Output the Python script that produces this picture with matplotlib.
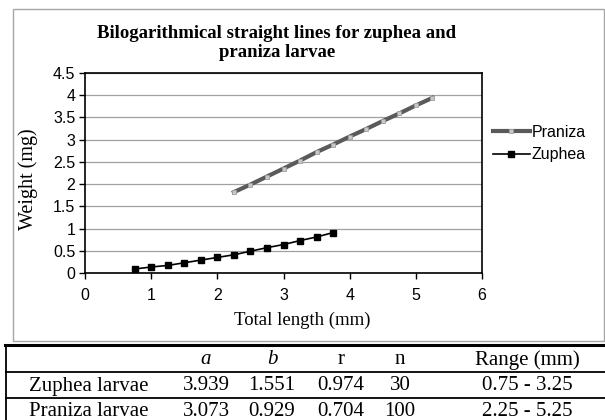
import matplotlib.pyplot as plt
from matplotlib.lines import Line2D
from matplotlib.patches import Rectangle

# values
zuphea_len = [0.75, 1.0, 1.25, 1.5, 1.75, 2.0, 2.25, 2.5, 2.75, 3.0, 3.25, 3.5, 3.75]
zuphea_wt = [0.09, 0.135, 0.17, 0.23, 0.29, 0.35, 0.41, 0.49, 0.57, 0.64, 0.73, 0.81, 0.91]

praniza_len = [2.25, 2.5, 2.75, 3.0, 3.25, 3.5, 3.75, 4.0, 4.25, 4.5, 4.75, 5.0, 5.25]
praniza_wt = [1.82, 1.99, 2.17, 2.35, 2.53, 2.72, 2.89, 3.07, 3.24, 3.42, 3.59, 3.77, 3.94]

# table under the chart
col_heads = ["a", "b", "r", "n", "Range (mm)"]
row_heads = ["Zuphea larvae", "Praniza larvae"]
cells = [
    ["3.939", "1.551", "0.974", "30", "0.75 - 3.25"],
    ["3.073", "0.929", "0.704", "100", "2.25 - 5.25"],
]

W, H = 605, 420
fig = plt.figure(figsize=(W / 100, H / 100), dpi=100)


def fx(px):
    return px / W


def fy(py):
    return 1 - py / H


# chart frame
fig.patches.append(Rectangle((fx(13), fy(341)), fx(604) - fx(13), fy(9) - fy(341),
                             transform=fig.transFigure, fill=False,
                             edgecolor="#a6a6a6", lw=1.0))

ax = fig.add_axes([fx(85), fy(273), fx(482) - fx(85), fy(73) - fy(273)])
ax.set_xlim(0, 6)
ax.set_ylim(0, 4.5)
ax.set_xticks(range(0, 7))
ax.set_yticks([i * 0.5 for i in range(10)])
ax.set_yticklabels(["0", "0.5", "1", "1.5", "2", "2.5", "3", "3.5", "4", "4.5"])
ax.grid(axis="y", color="#a0a0a0", lw=0.9)
ax.set_axisbelow(True)
for s in ax.spines.values():
    s.set_color("black")
    s.set_linewidth(1.2)
ax.tick_params(direction="out", length=4, width=1, colors="black",
               labelsize=11.5, pad=3)
for lab in ax.get_xticklabels() + ax.get_yticklabels():
    lab.set_fontfamily("Liberation Sans")
ax.tick_params(axis="x", pad=7)

ax.plot(praniza_len, praniza_wt, color="#5a5a5a", lw=3.0, marker="s",
        markersize=3, markerfacecolor="#c8c8c8", markeredgecolor="#a0a0a0",
        markeredgewidth=0.6, label="Praniza", zorder=3)
ax.plot(zuphea_len, zuphea_wt, color="black", lw=1.2, marker="s",
        markersize=5, markerfacecolor="black", label="Zuphea", zorder=4)

fig.text(fx(28), fy(179), "Weight (mg)", rotation=90, ha="center", va="center",
         family="Liberation Serif", fontsize=14.5)

fig.text(fx(277), fy(43), "Bilogarithmical straight lines for zuphea and\npraniza larvae",
         ha="center", va="center", family="Liberation Serif", weight="bold",
         fontsize=13.5, linespacing=1.15)
fig.text(fx(302), fy(320), "Total length (mm)", ha="center", va="center",
         family="Liberation Serif", fontsize=13.5)

leg = fig.legend(handles=ax.get_lines(), loc="upper left",
                 bbox_to_anchor=(fx(493), fy(125)), frameon=False,
                 prop={"family": "Liberation Sans", "size": 11.5},
                 handlelength=2.3, handletextpad=0.1, labelspacing=0.45,
                 borderpad=0, borderaxespad=0)

# table lines
fig.add_artist(Line2D([fx(5), fx(605)], [fy(345), fy(345)], color="black", lw=2.2,
                      transform=fig.transFigure))
for yy in [372, 398]:
    fig.add_artist(Line2D([fx(6), fx(605)], [fy(yy), fy(yy)], color="black", lw=1.3,
                          transform=fig.transFigure))
fig.add_artist(Line2D([fx(6), fx(6)], [fy(345), fy(421)], color="black", lw=1.3,
                      transform=fig.transFigure))

col_x = [206, 272, 341, 400, 527]
row_y = [360, 386, 411]
for cx, head in zip(col_x, col_heads):
    style = "italic" if head in ("a", "b") else "normal"
    fig.text(fx(cx), fy(row_y[0]), head, ha="center", va="center",
             family="Liberation Serif", fontsize=15, style=style)
for ri, (rh, vals) in enumerate(zip(row_heads, cells)):
    yy = fy(row_y[ri + 1])
    fig.text(fx(29), yy, rh, ha="left", va="center",
             family="Liberation Serif", fontsize=15)
    for cx, v in zip(col_x, vals):
        fig.text(fx(cx), yy, v, ha="center", va="center",
                 family="Liberation Serif", fontsize=15)

fig.savefig("out.png", dpi=100)
